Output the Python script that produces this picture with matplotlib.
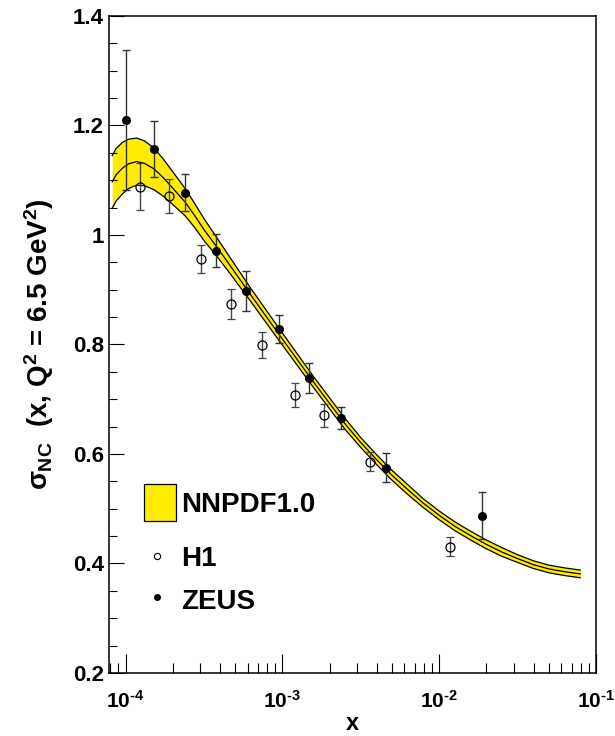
import matplotlib
matplotlib.use("Agg")
import matplotlib.pyplot as plt
import matplotlib.transforms as mtransforms
from matplotlib.ticker import LogLocator, MultipleLocator, FixedLocator, NullFormatter
import numpy as np

plt.rcParams['font.family'] = ['Liberation Sans', 'DejaVu Sans']
plt.rcParams['font.weight'] = 'bold'
plt.rcParams['mathtext.fontset'] = 'custom'
plt.rcParams['mathtext.rm'] = 'Liberation Sans:bold'
plt.rcParams['mathtext.bf'] = 'Liberation Sans:bold'
plt.rcParams['mathtext.it'] = 'Liberation Sans:bold'

# NNPDF1.0 band: log10(x), central value, half width
band_logx = [-4.085, -4.06, -4.02, -3.98, -3.93, -3.88, -3.82, -3.76, -3.70, -3.62,
             -3.56, -3.50, -3.42, -3.35, -3.2, -3.0, -2.8, -2.6, -2.5, -2.4,
             -2.3, -2.2, -2.1, -2.0, -1.9, -1.8, -1.7, -1.6, -1.5, -1.4,
             -1.3, -1.2, -1.1]
band_mid = [1.097, 1.110, 1.122, 1.130, 1.134, 1.131, 1.121, 1.105, 1.086, 1.060,
            1.036, 1.010, 0.979, 0.951, 0.890, 0.810, 0.731, 0.655, 0.621, 0.590,
            0.561, 0.535, 0.510, 0.488, 0.468, 0.451, 0.435, 0.421, 0.409, 0.398,
            0.390, 0.385, 0.381]
band_err = [0.048, 0.048, 0.047, 0.045, 0.043, 0.041, 0.038, 0.034, 0.030, 0.025,
            0.022, 0.020, 0.017, 0.015, 0.012, 0.011, 0.010, 0.010, 0.009, 0.009,
            0.009, 0.009, 0.008, 0.008, 0.008, 0.008, 0.008, 0.008, 0.007, 0.007,
            0.007, 0.007, 0.007]

# H1 data
h1_x = [1.24e-4, 1.9e-4, 3.05e-4, 4.7e-4, 7.45e-4, 1.21e-3, 1.84e-3, 3.63e-3, 1.17e-2]
h1_y = [1.088, 1.072, 0.956, 0.874, 0.799, 0.707, 0.671, 0.586, 0.431]
h1_err = [0.043, 0.031, 0.026, 0.028, 0.024, 0.022, 0.021, 0.017, 0.018]

# ZEUS data
zeus_x = [1.0e-4, 1.53e-4, 2.4e-4, 3.77e-4, 5.9e-4, 9.5e-4, 1.49e-3, 2.35e-3, 4.57e-3, 1.89e-2]
zeus_y = [1.21, 1.157, 1.077, 0.971, 0.898, 0.828, 0.739, 0.665, 0.575, 0.487]
zeus_err = [0.128, 0.052, 0.034, 0.030, 0.036, 0.026, 0.028, 0.020, 0.027, 0.043]

x_ticks = [1e-4, 1e-3, 1e-2, 1e-1]
x_exps = ['4', '3', '2', '1']

fig = plt.figure(figsize=(6.15, 7.36), dpi=100)
ax = fig.add_axes([0.178, 0.0856, 0.791, 0.8927])

bx = 10 ** np.array(band_logx)
mid = np.array(band_mid)
err = np.array(band_err)
ax.fill_between(bx, mid - err, mid + err, color='#ffec00', lw=0, zorder=1)
for yy in (mid - err, mid, mid + err):
    ax.plot(bx, yy, color='black', lw=0.9, zorder=2, solid_joinstyle='round')

ax.errorbar(h1_x, h1_y, yerr=h1_err, fmt='o', ms=6.5, mfc='none', mec='black',
            mew=0.9, ecolor='#444444', elinewidth=1, capsize=3, capthick=1, zorder=3)
ax.errorbar(zeus_x, zeus_y, yerr=zeus_err, fmt='o', ms=5.5, mfc='black', mec='black',
            ecolor='#333333', elinewidth=1, capsize=3, capthick=1, zorder=4)

ax.set_xscale('log')
ax.set_xlim(7.9e-5, 0.1)
ax.set_ylim(0.2, 1.4)

ax.xaxis.set_major_locator(FixedLocator(x_ticks))
ax.xaxis.set_minor_locator(LogLocator(base=10, subs=np.arange(2, 10), numticks=20))
ax.xaxis.set_minor_formatter(NullFormatter())
ax.set_xticklabels([])
# x tick labels: "10" with a short hyphen exponent, as in the original
blend = mtransforms.blended_transform_factory(ax.transData, ax.transAxes)
for v, e in zip(x_ticks, x_exps):
    ax.text(v, -0.025, r'10$^{\text{-}' + e + '}$', transform=blend, ha='center', va='top',
            fontsize=15, fontweight='bold', clip_on=False)

ax.yaxis.set_minor_locator(MultipleLocator(0.05))
ax.set_yticks([0.2, 0.4, 0.6, 0.8, 1.0, 1.2, 1.4])
ax.set_yticklabels(['0.2', '0.4', '0.6', '0.8', '1', '1.2', '1.4'])

ax.tick_params(axis='x', which='major', direction='in', length=14, width=0.8, top=False)
ax.tick_params(axis='x', which='minor', direction='in', length=7, width=0.8, top=False)
ax.tick_params(axis='y', which='major', direction='in', length=11, width=0.8,
               labelsize=16, pad=4, right=False)
ax.tick_params(axis='y', which='minor', direction='in', length=5.5, width=0.8, right=False)
for s in ax.spines.values():
    s.set_linewidth(1.1)

ax.text(0.5, -0.086, 'x', transform=ax.transAxes, ha='center', va='baseline',
        fontsize=17, fontweight='bold')
ax.set_ylabel(r'$\sigma_{\mathbf{NC}}$  (x, Q$^{\mathbf{2}}$ = 6.5 GeV$^{\mathbf{2}}$)',
              fontsize=20, fontweight='bold')
ax.yaxis.set_label_coords(-0.11, 0.5)

# legend drawn by hand in axes fraction coordinates
tr = ax.transAxes
def fx(px):
    return (px - 109.5) / (596 - 109.5)
def fy(py):
    return (673 - py) / (673 - 16)
ax.add_patch(plt.Rectangle((fx(144), fy(521)), fx(176) - fx(144), fy(484) - fy(521),
                           transform=tr, facecolor='#ffec00', edgecolor='black', lw=0.9))
ax.text(fx(181), fy(505), 'NNPDF1.0', transform=tr, fontsize=20, fontweight='bold', va='center')
ax.plot([fx(157)], [fy(556)], 'o', transform=tr, ms=4.5, mfc='none', mec='black', mew=0.8)
ax.text(fx(181), fy(559), 'H1', transform=tr, fontsize=20, fontweight='bold', va='center')
ax.plot([fx(157)], [fy(597)], 'o', transform=tr, ms=4, mfc='black', mec='black')
ax.text(fx(181), fy(602), 'ZEUS', transform=tr, fontsize=20, fontweight='bold', va='center')

fig.savefig('out.png', dpi=100)
